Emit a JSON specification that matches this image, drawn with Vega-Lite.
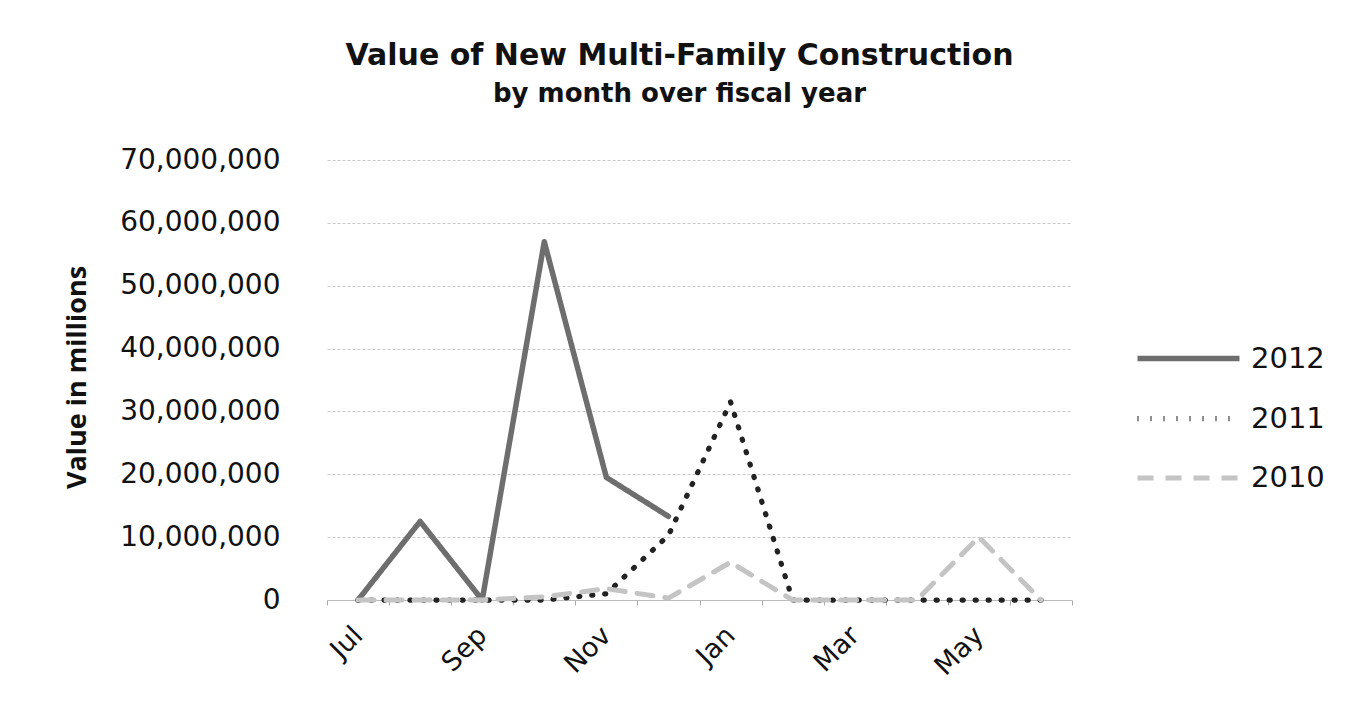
{
  "$schema": "https://vega.github.io/schema/vega-lite/v6.json",
  "width": 745,
  "height": 440,
  "autosize": {"type": "none"},
  "padding": {"left": 327, "top": 160, "right": 275, "bottom": 108},
  "background": "white",
  "title": {
    "text": "Value of New Multi-Family Construction",
    "subtitle": "by month over fiscal year",
    "anchor": "middle",
    "dx": -20,
    "offset": 39,
    "font": "DejaVu Sans",
    "fontSize": 30,
    "fontWeight": "bold",
    "color": "#111",
    "subtitleFont": "DejaVu Sans",
    "subtitleFontSize": 26,
    "subtitleFontWeight": "bold",
    "subtitleColor": "#111",
    "subtitlePadding": 10
  },
  "data": {
    "values": [
      {"month": "Jul", "year": "2012", "value": 0},
      {"month": "Aug", "year": "2012", "value": 12500000},
      {"month": "Sep", "year": "2012", "value": 0},
      {"month": "Oct", "year": "2012", "value": 57000000},
      {"month": "Nov", "year": "2012", "value": 19500000},
      {"month": "Dec", "year": "2012", "value": 13300000},
      {"month": "Jul", "year": "2011", "value": 0},
      {"month": "Aug", "year": "2011", "value": 0},
      {"month": "Sep", "year": "2011", "value": 0},
      {"month": "Oct", "year": "2011", "value": 0},
      {"month": "Nov", "year": "2011", "value": 1000000},
      {"month": "Dec", "year": "2011", "value": 10300000},
      {"month": "Jan", "year": "2011", "value": 31500000},
      {"month": "Feb", "year": "2011", "value": 0},
      {"month": "Mar", "year": "2011", "value": 0},
      {"month": "Apr", "year": "2011", "value": 0},
      {"month": "May", "year": "2011", "value": 0},
      {"month": "Jun", "year": "2011", "value": 0},
      {"month": "Jul", "year": "2010", "value": 0},
      {"month": "Aug", "year": "2010", "value": 0},
      {"month": "Sep", "year": "2010", "value": 0},
      {"month": "Oct", "year": "2010", "value": 500000},
      {"month": "Nov", "year": "2010", "value": 1800000},
      {"month": "Dec", "year": "2010", "value": 300000},
      {"month": "Jan", "year": "2010", "value": 6000000},
      {"month": "Feb", "year": "2010", "value": 0},
      {"month": "Mar", "year": "2010", "value": 0},
      {"month": "Apr", "year": "2010", "value": 0},
      {"month": "May", "year": "2010", "value": 10000000},
      {"month": "Jun", "year": "2010", "value": 0}
    ]
  },
  "mark": {"type": "line", "strokeCap": "round", "strokeJoin": "round"},
  "encoding": {
    "x": {
      "field": "month",
      "type": "ordinal",
      "sort": ["Jul", "Aug", "Sep", "Oct", "Nov", "Dec", "Jan", "Feb", "Mar", "Apr", "May", "Jun"],
      "scale": {"type": "band", "paddingInner": 0, "paddingOuter": 0},
      "axis": {
        "title": null,
        "labelExpr": "indexof(['Jul','Sep','Nov','Jan','Mar','May'], datum.value) >= 0 ? datum.value : ''",
        "labelAngle": -45,
        "labelAlign": "right",
        "labelBaseline": "middle",
        "labelFont": "DejaVu Sans",
        "labelFontSize": 27,
        "labelColor": "#111",
        "labelPadding": 26,
        "labelOverlap": false,
        "ticks": true,
        "tickBand": "extent",
        "tickSize": 5,
        "tickColor": "#aaa",
        "domainColor": "#bbb",
        "domainWidth": 1,
        "grid": false
      }
    },
    "y": {
      "field": "value",
      "type": "quantitative",
      "scale": {"domain": [0, 70000000]},
      "axis": {
        "title": "Value in millions",
        "titleFont": "Open Sans",
        "titleFontSize": 27,
        "titleFontWeight": "bold",
        "titleColor": "#111",
        "titleX": -250,
        "titleY": 217,
        "titleAlign": "center",
        "titleBaseline": "middle",
        "values": [0, 10000000, 20000000, 30000000, 40000000, 50000000, 60000000, 70000000],
        "format": ",d",
        "labelFont": "DejaVu Sans",
        "labelFontSize": 28,
        "labelColor": "#111",
        "labelPadding": 47,
        "ticks": false,
        "domain": false,
        "grid": true,
        "gridColor": "#c8c8c8",
        "gridDash": [3, 2],
        "gridWidth": 1
      }
    },
    "color": {
      "field": "year",
      "type": "nominal",
      "sort": ["2012", "2011", "2010"],
      "scale": {"domain": ["2012", "2011", "2010"], "range": ["#6e6e6e", "#222222", "#c4c4c4"]},
      "legend": {
        "title": null,
        "orient": "none",
        "legendX": 833,
        "legendY": 170,
        "symbolType": "M-2,0H2",
        "symbolSize": 2601,
        "labelFont": "DejaVu Sans",
        "labelFontSize": 29,
        "labelColor": "#111",
        "labelOffset": 34,
        "rowPadding": 16,
        "padding": 0
      }
    },
    "strokeDash": {
      "field": "year",
      "type": "nominal",
      "sort": ["2012", "2011", "2010"],
      "scale": {"domain": ["2012", "2011", "2010"], "range": [[1, 0], [1, 12], [16, 12]]}
    },
    "strokeWidth": {
      "field": "year",
      "type": "nominal",
      "sort": ["2012", "2011", "2010"],
      "scale": {"domain": ["2012", "2011", "2010"], "range": [5.5, 5, 4]}
    }
  },
  "config": {
    "view": {"stroke": null}
  }
}
